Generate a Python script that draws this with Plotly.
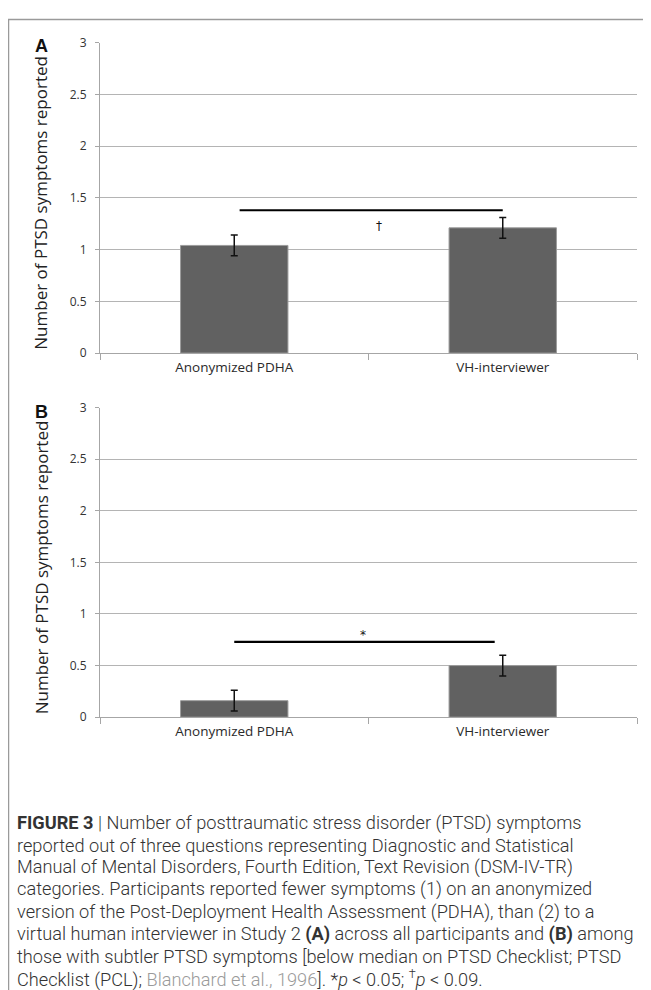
import plotly.graph_objects as go

# ---- data ----
categories = ["Anonymized PDHA", "VH-interviewer"]
means_a = [1.04, 1.21]
err_a = [0.10, 0.10]
means_b = [0.16, 0.50]
err_b = [0.10, 0.10]
y_ticks = [0, 0.5, 1, 1.5, 2, 2.5, 3]
sig_a_x = [0.02, 1.0]
sig_a_y = [1.38, 1.38]
sig_a_mark = "†"
sig_a_mark_pos = (0.54, 1.23)
sig_b_x = [0.0, 0.97]
sig_b_y = [0.73, 0.73]
sig_b_mark = "*"
sig_b_mark_pos = (0.48, 0.80)
y_title = "Number of PTSD symptoms reported"

caption_lines = [
    "<b>FIGURE 3</b> | Number of posttraumatic stress disorder (PTSD) symptoms",
    "reported out of three questions representing Diagnostic and Statistical",
    "Manual of Mental Disorders, Fourth Edition, Text Revision (DSM-IV-TR)",
    "categories. Participants reported fewer symptoms (1) on an anonymized",
    "version of the Post-Deployment Health Assessment (PDHA), than (2) to a",
    "virtual human interviewer in Study 2 <b>(A)</b> across all participants and <b>(B)</b> among",
    "those with subtler PTSD symptoms [below median on PTSD Checklist; PTSD",
    "Checklist (PCL); <span style='color:#9a9a9a'>Blanchard et al., 1996</span>]. *<i>p</i> &lt; 0.05; <sup>†</sup><i>p</i> &lt; 0.09.",
]

OFF = 8  # default page body margin
W, H = 651 - OFF, 990 - OFF
def px_x(v):
    return (v - OFF) / W
def px_y(v):
    return 1 - (v - OFF) / H

BAR = "#616161"
GRID = "#b4b4b4"
AX = "#a6a6a6"
TXT = "#333333"
CHART_FONT = "Open Sans"

fig = go.Figure()

panels = [
    ("x", "y", means_a, err_a, sig_a_x, sig_a_y, sig_a_mark, sig_a_mark_pos, (350, 34), "A"),
    ("x2", "y2", means_b, err_b, sig_b_x, sig_b_y, sig_b_mark, sig_b_mark_pos, (720.5, 405.5), "B"),
]

for xa, ya, m, e, sx, sy, mk, mpos, _, _l in panels:
    fig.add_trace(go.Bar(
        x=[0, 1], y=m, width=0.4, xaxis=xa, yaxis=ya,
        marker=dict(color=BAR, line=dict(color="#9c9c9c", width=1)),
        error_y=dict(type="data", array=e, visible=True, color="#111111",
                     thickness=1.5, width=3.5),
        showlegend=False, hoverinfo="skip",
    ))
    fig.add_trace(go.Scatter(
        x=sx, y=sy, mode="lines", xaxis=xa, yaxis=ya,
        line=dict(color="black", width=2.2), showlegend=False, hoverinfo="skip",
    ))
    fig.add_annotation(x=mpos[0], y=mpos[1], xref=xa, yref=ya, text=mk,
                       xanchor="center", yanchor="middle",
                       showarrow=False, font=dict(size=12, color="#111111", family="DejaVu Sans"))

layout = dict(
    width=W, height=H,
    margin=dict(l=0, r=0, t=0, b=0),
    paper_bgcolor="white", plot_bgcolor="white",
    bargap=0.6,
)

for i, (xa, ya, m, e, sx, sy, mk, mpos, (y0px, y3px), letter) in enumerate(panels):
    xkey = "xaxis" if xa == "x" else "xaxis2"
    ykey = "yaxis" if ya == "y" else "yaxis2"
    layout[xkey] = dict(
        domain=[px_x(100), px_x(637)], anchor=ya, range=[-0.5, 1.5],
        tickvals=[0, 1], ticktext=categories, ticks="",
        showline=True, linecolor=AX, linewidth=1, showgrid=False, zeroline=False,
        tickfont=dict(size=13.5, color="#2a2a2a", family=CHART_FONT),
        ticklabelstandoff=2,
        minor=dict(tick0=-0.5, dtick=1, ticks="outside", ticklen=6,
                   tickcolor=AX, tickwidth=1, showgrid=False),
        fixedrange=True,
    )
    layout[ykey] = dict(
        domain=[px_y(y0px), px_y(y3px)], anchor=xa, range=[0, 3],
        tickvals=y_ticks, ticks="outside", ticklen=4, tickcolor=AX,
        showline=True, linecolor=AX, linewidth=1,
        showgrid=True, gridcolor=GRID, gridwidth=1, zeroline=False,
        tickfont=dict(size=12, color=TXT, family=CHART_FONT),
        ticklabelstandoff=6,
        fixedrange=True,
    )
    # axis title
    fig.add_annotation(x=px_x(41), y=px_y((y0px + y3px) / 2 + 5), xref="paper", yref="paper",
                       xanchor="center", yanchor="middle",
                       text=y_title, textangle=-90, showarrow=False,
                       font=dict(size=17, color="#222222", family=CHART_FONT))
    # panel letter
    fig.add_annotation(x=px_x(41), y=px_y(y3px + 4), xref="paper", yref="paper",
                       xanchor="center", yanchor="middle",
                       text="<b>%s</b>" % letter, showarrow=False,
                       font=dict(size=18, color="#111111", family="Liberation Sans"))

fig.update_layout(**layout)

# frame
fig.add_shape(type="rect", xref="paper", yref="paper",
              x0=px_x(8.5), x1=1.2, y0=-0.2, y1=px_y(10.5),
              line=dict(color="#9a9a9a", width=1.5), fillcolor="rgba(0,0,0,0)", layer="below")

# caption
for k, line in enumerate(caption_lines):
    fig.add_annotation(x=px_x(15), y=px_y(828 + k * 22.6), xref="paper", yref="paper",
                       xanchor="left", yanchor="middle", text=line, showarrow=False,
                       font=dict(size=18.2, color="#333333", family="Roboto", weight=300))

fig.write_html("out.html")
